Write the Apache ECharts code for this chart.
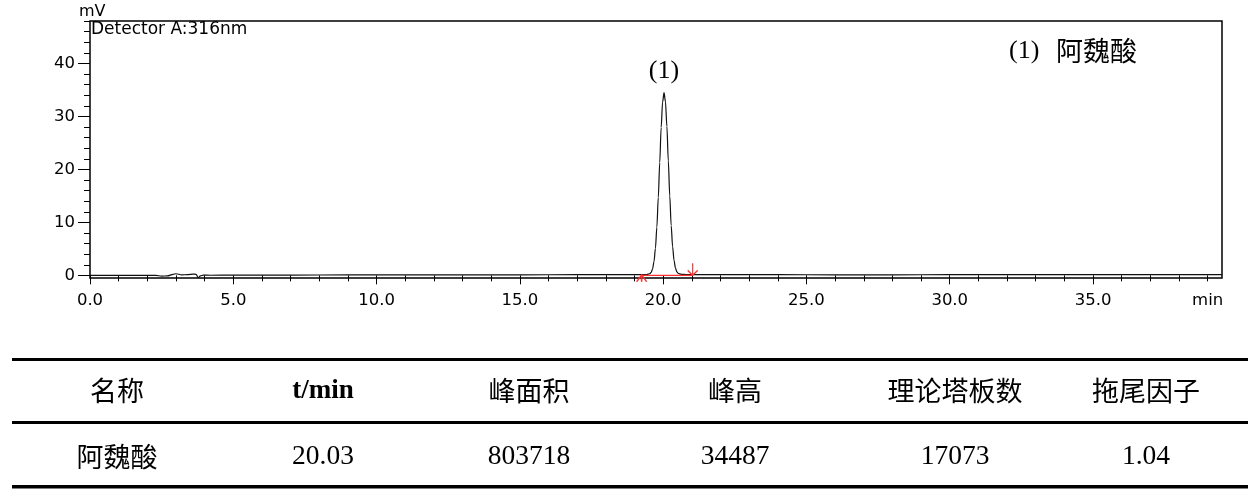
<!DOCTYPE html>
<html>
<head>
<meta charset="utf-8">
<script src="https://cdn.jsdelivr.net/npm/echarts@6/dist/echarts.min.js"></script>
<style>
html,body{margin:0;padding:0;background:#fff;}
#chart{width:1260px;height:495px;}
</style>
</head>
<body>
<div id="chart"></div>
<script>
// ---- chromatogram trace (time in min, signal in mV) ----
const traceTime = [0, 0.5, 1.0, 1.5, 2.0, 2.3, 2.5, 2.7, 2.9, 3.0, 3.2, 3.4, 3.6, 3.7, 3.78, 3.85, 3.95, 4.2, 5, 7, 9, 11, 13, 15, 17, 18, 19, 19.25,
  19.43, 19.53, 19.58, 19.63, 19.68, 19.73, 19.78, 19.83, 19.88, 19.93, 19.98, 20.03, 20.08, 20.13, 20.18, 20.23, 20.28, 20.33, 20.38, 20.43, 20.48, 20.53, 20.63, 20.8, 21.03,
  22, 24, 26, 28, 30, 32, 34, 36, 38, 39.5];
const traceMV = [0, 0, 0.02, 0, 0, 0, -0.15, -0.1, 0.2, 0.3, 0.1, 0.12, 0.25, 0.2, -0.45, -0.1, 0.05, 0.02, 0.05, 0.05, 0.08, 0.1, 0.1, 0.1, 0.12, 0.12, 0.12, 0.15,
  0.15, 0.3, 0.55, 1.2, 2.6, 5.1, 9.1, 14.7, 21.3, 27.9, 32.7, 34.49, 32.8, 28.1, 21.6, 15.0, 9.4, 5.4, 2.8, 1.35, 0.65, 0.35, 0.2, 0.15, 0.15,
  0.12, 0.12, 0.1, 0.1, 0.12, 0.15, 0.12, 0.15, 0.15, 0.12];

// ---- peak annotation ----
const peakTimes = [20.03];
const peakHeights = [34.49];
const peakLabels = ['(1)'];
const peakStart = [19.25, 0];
const peakEnd = [21.03, 0];

// ---- axis ticks ----
const xMajorTicks = [0, 5, 10, 15, 20, 25, 30, 35];
const xMinorTicks = [1, 2, 3, 4, 6, 7, 8, 9, 11, 12, 13, 14, 16, 17, 18, 19, 21, 22, 23, 24, 26, 27, 28, 29, 31, 32, 33, 34, 36, 37, 38, 39];
const yMajorTicks = [0, 10, 20, 30, 40];
const yMinorTicks = [2, 4, 6, 8, 12, 14, 16, 18, 22, 24, 26, 28, 32, 34, 36, 38, 42, 44, 46, 48];

// ---- table ----
const tableHeaders = ['名称', 't/min', '峰面积', '峰高', '理论塔板数', '拖尾因子'];
const tableRow = ['阿魏酸', '20.03', '803718', '34487', '17073', '1.04'];
const colCenters = [117, 323, 529, 735, 955, 1146];

const chart = echarts.init(document.getElementById('chart'), null, {renderer: 'canvas'});

const axisFont = {fontFamily: 'DejaVu Sans', fontSize: 16.5, color: '#000'};
const cjk = '"Noto Sans CJK SC", sans-serif';
const serif = '"Liberation Serif", "Times New Roman", serif';

const graphics = [
  {type: 'text', left: 79, top: 4, style: {text: 'mV', font: '16px "DejaVu Sans"', fill: '#000'}},
  {type: 'text', left: 91, top: 21, style: {text: 'Detector A:316nm', font: '17px "DejaVu Sans"', fill: '#000'}},
  {type: 'text', x: 1009, y: 51, style: {text: '(1)', font: '26px ' + serif, fill: '#000', verticalAlign: 'middle'}},
  {type: 'text', x: 1056, y: 51, style: {text: '阿魏酸', font: '27px ' + cjk, fill: '#000', verticalAlign: 'middle'}},
  {type: 'rect', shape: {x: 12, y: 358, width: 1236, height: 3}, style: {fill: '#000'}},
  {type: 'rect', shape: {x: 12, y: 421, width: 1236, height: 3}, style: {fill: '#000'}},
  {type: 'rect', shape: {x: 12, y: 485, width: 1236, height: 3.5}, style: {fill: '#000'}}
];
tableHeaders.forEach((h, i) => {
  const isLatin = /^[\x00-\x7f]+$/.test(h);
  graphics.push({type: 'text', x: colCenters[i], y: 391, style: {
    text: h, align: 'center', verticalAlign: 'middle',
    font: isLatin ? ('bold 27px ' + serif) : ('27px ' + cjk), fill: '#000'}});
});
tableRow.forEach((v, i) => {
  const isLatin = /^[\x00-\x7f]+$/.test(v);
  graphics.push({type: 'text', x: colCenters[i], y: 457, style: {
    text: v, align: 'center', verticalAlign: 'middle',
    font: isLatin ? ('27.5px ' + serif) : ('27px ' + cjk), fill: '#000'}});
});

const option = {
  animation: false,
  backgroundColor: '#fff',
  grid: {left: 90, right: 38, top: 21, bottom: 217, show: true, borderColor: '#000', borderWidth: 1.5, backgroundColor: 'transparent'},
  xAxis: [
    {type: 'value', min: 0, max: 39.5, position: 'bottom', offset: 2,
      axisLine: {show: false}, splitLine: {show: false},
      axisTick: {show: true, customValues: xMajorTicks, length: 9, lineStyle: {color: '#000', width: 1}},
      axisLabel: Object.assign({customValues: xMajorTicks, margin: 12, formatter: v => v.toFixed(1)}, axisFont)},
    {type: 'value', min: 0, max: 39.5, position: 'bottom', offset: 2,
      axisLine: {show: false}, splitLine: {show: false},
      axisTick: {show: true, customValues: xMinorTicks, length: 6, lineStyle: {color: '#000', width: 1}},
      axisLabel: Object.assign({customValues: [39], margin: 12, formatter: () => 'min'}, axisFont)}
  ],
  yAxis: [
    {type: 'value', min: -0.5, max: 48, position: 'left',
      axisLine: {show: false}, splitLine: {show: false},
      axisTick: {show: true, customValues: yMajorTicks, length: 12, lineStyle: {color: '#000', width: 1}},
      axisLabel: Object.assign({customValues: yMajorTicks, margin: 15}, axisFont)},
    {type: 'value', min: -0.5, max: 48, position: 'left',
      axisLine: {show: false}, splitLine: {show: false},
      axisTick: {show: true, customValues: yMinorTicks, length: 6, lineStyle: {color: '#000', width: 1}},
      axisLabel: {show: false}}
  ],
  series: [
    {type: 'line', xAxisIndex: 0, yAxisIndex: 0, showSymbol: false, symbol: 'none',
      smooth: 0.3, smoothMonotone: 'x',
      lineStyle: {color: '#111', width: 1.2},
      data: traceTime.map((t, i) => [t, traceMV[i]]), z: 3},
    {type: 'line', xAxisIndex: 0, yAxisIndex: 0, symbol: 'none',
      lineStyle: {color: '#ff3030', width: 1.3},
      data: [peakStart, peakEnd], z: 4},
    {type: 'scatter', xAxisIndex: 0, yAxisIndex: 0,
      symbol: 'path://M0,7 L5,0 L10,7 M5,0 L5,7', symbolSize: [10, 7], symbolOffset: [0, 3],
      itemStyle: {color: 'none', borderColor: '#ff3030', borderWidth: 1.3, opacity: 1},
      data: [peakStart], z: 5},
    {type: 'scatter', xAxisIndex: 0, yAxisIndex: 0,
      symbol: 'path://M5,0 L5,12 M0,7 L5,12 L10,7', symbolSize: [10, 12], symbolOffset: [0, -6],
      itemStyle: {color: 'none', borderColor: '#ff3030', borderWidth: 1.3, opacity: 1},
      data: [peakEnd], z: 5},
    {type: 'scatter', xAxisIndex: 0, yAxisIndex: 0, symbolSize: 0,
      itemStyle: {opacity: 1},
      label: {show: true, position: 'top', distance: 8, formatter: p => peakLabels[p.dataIndex],
        fontFamily: serif, fontSize: 26, color: '#000', opacity: 1},
      data: peakTimes.map((t, i) => [t, peakHeights[i]]), z: 6}
  ],
  graphic: graphics
};
chart.setOption(option);
</script>
</body>
</html>
